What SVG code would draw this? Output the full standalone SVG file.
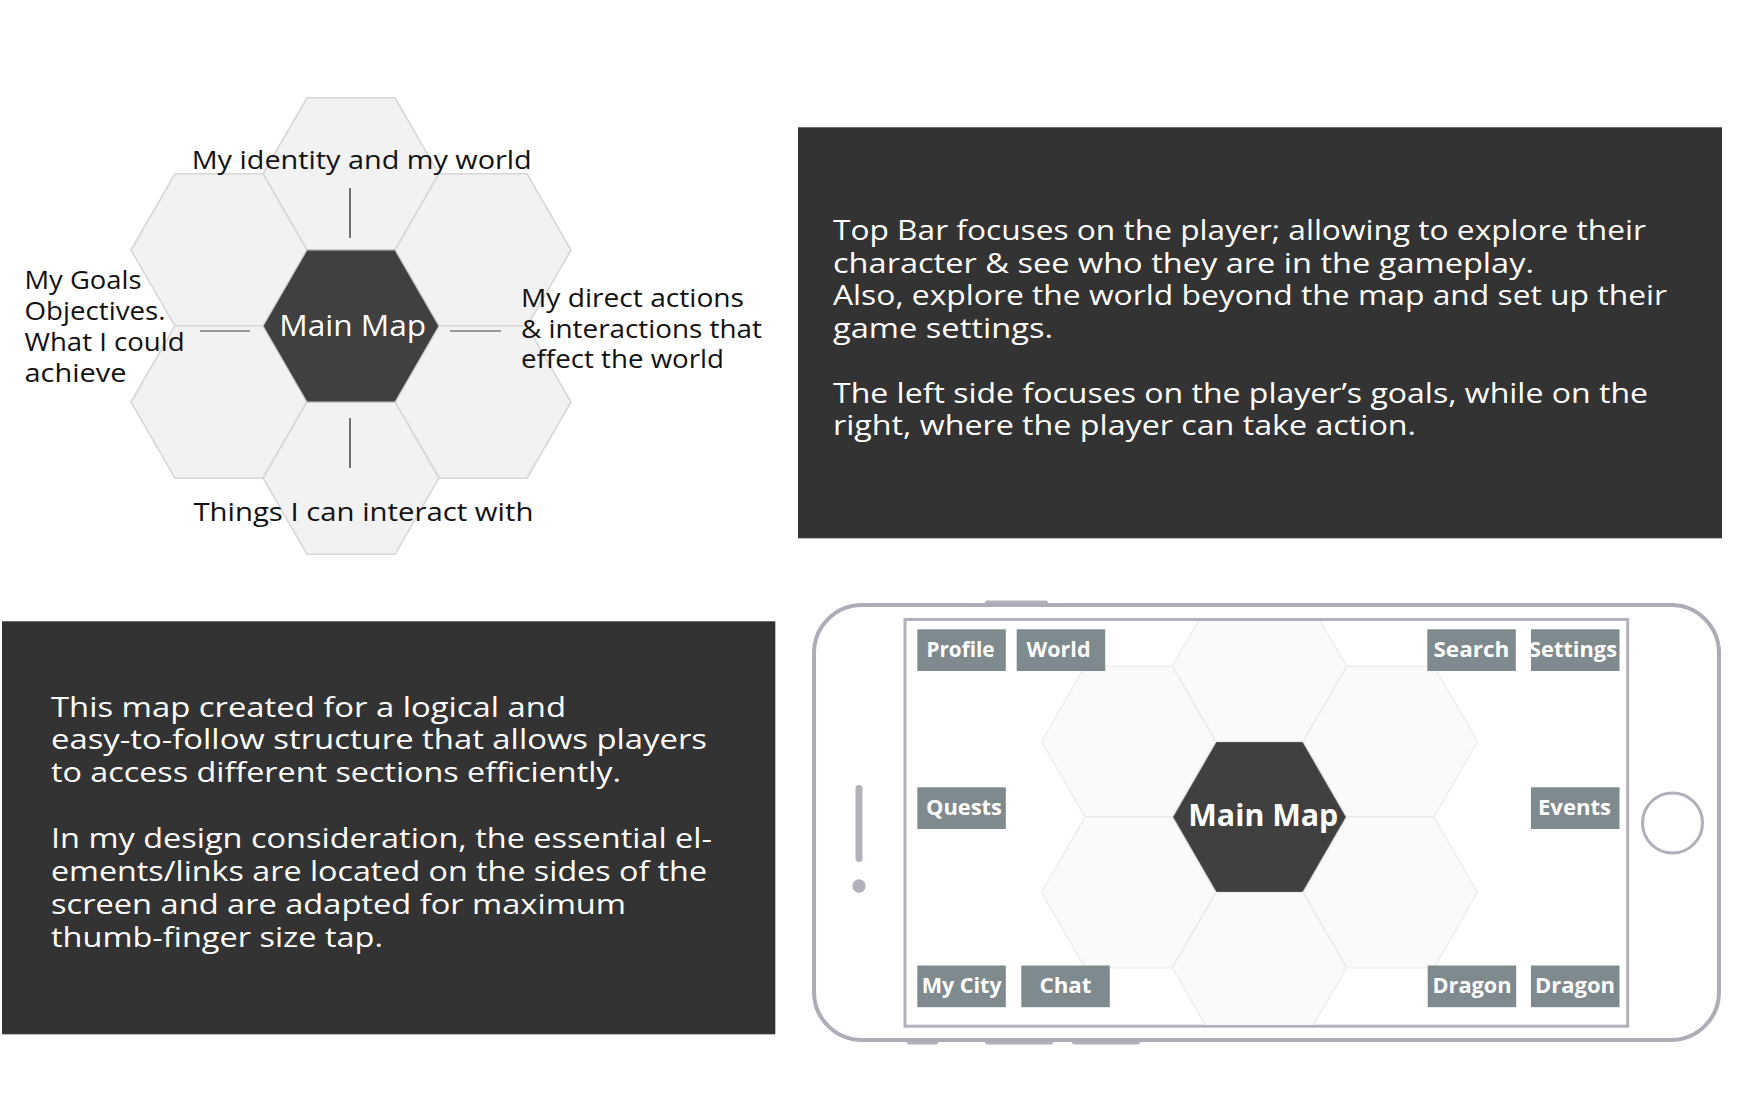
<svg xmlns="http://www.w3.org/2000/svg" xmlns:xlink="http://www.w3.org/1999/xlink" width="1753" height="1120" viewBox="0 0 1753 1120">
  <style>
    text { font-family: "Open Sans", "Noto Sans", "Liberation Sans", sans-serif; }
    .lbl { font-size: 25.5px; fill: #111111; }
    .box { fill: #333333; }
    .boxtxt { font-size: 26.5px; fill: #ffffff; }
    .hexlight { fill: #f2f2f2; stroke: #d6d6d6; stroke-width: 1.5; }
    .hexdark { fill: #404040; stroke: #cccccc; stroke-width: 1.2; }
    .hexfaint { fill: #fafafa; stroke: #ebebeb; stroke-width: 1.2; }
    .hexcore { fill: #404040; stroke: #555555; stroke-width: 1; }
    .maintxt { font-size: 30px; fill: #ffffff; }
    .btn { fill: #7e8a8e; }
    .btntxt { font-size: 20.5px; font-weight: bold; fill: #ffffff; text-anchor: middle; }
    .vline { stroke: #3a3a3a; stroke-width: 1.4; }
    .hline { stroke: #9a9a9a; stroke-width: 2.2; }
    .phonepart { fill: #b2b2bc; }
  </style>
  <defs>
    <polygon id="hex88" points="-88,0 -44,-76.2 44,-76.2 88,0 44,76.2 -44,76.2"/>
    <polygon id="hex87" points="-87,0 -43.5,-75.3 43.5,-75.3 87,0 43.5,75.3 -43.5,75.3"/>
    <polygon id="hex86" points="-86,0 -43,-74.5 43,-74.5 86,0 43,74.5 -43,74.5"/>
    <clipPath id="screenClip">
      <rect x="906.5" y="621" width="719.5" height="404"/>
    </clipPath>
  </defs>

  <rect x="0" y="0" width="1753" height="1120" fill="#ffffff"/>

  <!-- Top-left hexagon map -->
  <g id="hexmap">
    <use xlink:href="#hex88" href="#hex88" class="hexlight" x="351" y="174"/>
    <use xlink:href="#hex88" href="#hex88" class="hexlight" x="219" y="250"/>
    <use xlink:href="#hex88" href="#hex88" class="hexlight" x="483" y="250"/>
    <use xlink:href="#hex88" href="#hex88" class="hexlight" x="219" y="402"/>
    <use xlink:href="#hex88" href="#hex88" class="hexlight" x="483" y="402"/>
    <use xlink:href="#hex88" href="#hex88" class="hexlight" x="351" y="478"/>
    <g id="node-main-map">
      <use xlink:href="#hex88" href="#hex88" class="hexdark" x="351" y="326"/>
      <text class="maintxt" x="352.7" y="336" text-anchor="middle" textLength="147" lengthAdjust="spacingAndGlyphs">Main Map</text>
    </g>
  </g>

  <g id="connectors">
    <line class="vline" x1="350" y1="188" x2="350" y2="238"/>
    <line class="vline" x1="350" y1="418" x2="350" y2="468"/>
    <line class="hline" x1="200" y1="331" x2="250" y2="331"/>
    <line class="hline" x1="450" y1="331" x2="501" y2="331"/>
  </g>

  <g id="label-top">
    <text class="lbl" x="191.7" y="168.5" textLength="340" lengthAdjust="spacingAndGlyphs">My identity and my world</text>
  </g>
  <g id="label-left">
    <text class="lbl" x="24.5" y="289" textLength="117" lengthAdjust="spacingAndGlyphs">My Goals</text>
    <text class="lbl" x="24.5" y="320" textLength="141" lengthAdjust="spacingAndGlyphs">Objectives.</text>
    <text class="lbl" x="24.5" y="351" textLength="160" lengthAdjust="spacingAndGlyphs">What I could</text>
    <text class="lbl" x="24.5" y="382" textLength="102" lengthAdjust="spacingAndGlyphs">achieve</text>
  </g>
  <g id="label-right">
    <text class="lbl" x="521" y="306.7" textLength="223" lengthAdjust="spacingAndGlyphs">My direct actions</text>
    <text class="lbl" x="521" y="337.5" textLength="241" lengthAdjust="spacingAndGlyphs">&amp; interactions that</text>
    <text class="lbl" x="521" y="368.3" textLength="203" lengthAdjust="spacingAndGlyphs">effect the world</text>
  </g>
  <g id="label-bottom">
    <text class="lbl" x="193.4" y="521" textLength="340" lengthAdjust="spacingAndGlyphs">Things I can interact with</text>
  </g>

  <!-- Right description box -->
  <g id="box-topbar">
    <rect class="box" x="798" y="127.3" width="924" height="411"/>
    <text class="boxtxt" x="833" y="240" textLength="813" lengthAdjust="spacingAndGlyphs">Top Bar focuses on the player; allowing to explore their</text>
    <text class="boxtxt" x="833" y="272.5" textLength="701" lengthAdjust="spacingAndGlyphs">character &amp; see who they are in the gameplay.</text>
    <text class="boxtxt" x="833" y="305" textLength="834" lengthAdjust="spacingAndGlyphs">Also, explore the world beyond the map and set up their</text>
    <text class="boxtxt" x="833" y="337.5" textLength="220" lengthAdjust="spacingAndGlyphs">game settings.</text>
    <text class="boxtxt" x="833" y="402.5" textLength="815" lengthAdjust="spacingAndGlyphs">The left side focuses on the player’s goals, while on the</text>
    <text class="boxtxt" x="833" y="435" textLength="583" lengthAdjust="spacingAndGlyphs">right, where the player can take action.</text>
  </g>

  <!-- Left description box -->
  <g id="box-map">
    <rect class="box" x="2" y="621.3" width="773.3" height="413"/>
    <text class="boxtxt" x="51" y="716.7" textLength="515" lengthAdjust="spacingAndGlyphs">This map created for a logical and</text>
    <text class="boxtxt" x="51" y="749.3" textLength="656" lengthAdjust="spacingAndGlyphs">easy-to-follow structure that allows players</text>
    <text class="boxtxt" x="51" y="782" textLength="570" lengthAdjust="spacingAndGlyphs">to access different sections efficiently.</text>
    <text class="boxtxt" x="51" y="848" textLength="661" lengthAdjust="spacingAndGlyphs">In my design consideration, the essential el-</text>
    <text class="boxtxt" x="51" y="881" textLength="656" lengthAdjust="spacingAndGlyphs">ements/links are located on the sides of the</text>
    <text class="boxtxt" x="51" y="914.3" textLength="575" lengthAdjust="spacingAndGlyphs">screen and are adapted for maximum</text>
    <text class="boxtxt" x="51" y="947" textLength="332" lengthAdjust="spacingAndGlyphs">thumb-finger size tap.</text>
  </g>

  <!-- Phone mockup -->
  <g id="phone">
    <rect class="phonepart" x="985" y="600.5" width="63" height="6" rx="2"/>
    <rect class="phonepart" x="907" y="1038.5" width="31" height="6" rx="2"/>
    <rect class="phonepart" x="985" y="1038.5" width="68" height="6" rx="2"/>
    <rect class="phonepart" x="1072" y="1038.5" width="68" height="6" rx="2"/>
    <rect x="814" y="605" width="905" height="435" rx="48" ry="48" fill="#ffffff" stroke="#adadb7" stroke-width="4"/>
    <rect class="phonepart" x="855.5" y="785" width="7" height="77" rx="3.5"/>
    <circle class="phonepart" cx="859" cy="886" r="6.7"/>
    <circle cx="1672.5" cy="823" r="30" fill="none" stroke="#b0b0ba" stroke-width="3"/>
    <rect x="905" y="619.5" width="722.7" height="406.7" fill="#ffffff" stroke="#b2b2bc" stroke-width="3"/>
  </g>

  <g id="phone-hexes" clip-path="url(#screenClip)">
    <use xlink:href="#hex87" href="#hex87" class="hexfaint" x="1259.5" y="666"/>
    <use xlink:href="#hex87" href="#hex87" class="hexfaint" x="1128.5" y="741.5"/>
    <use xlink:href="#hex87" href="#hex87" class="hexfaint" x="1390.5" y="741.5"/>
    <use xlink:href="#hex87" href="#hex87" class="hexfaint" x="1128.5" y="892.5"/>
    <use xlink:href="#hex87" href="#hex87" class="hexfaint" x="1390.5" y="892.5"/>
    <use xlink:href="#hex87" href="#hex87" class="hexfaint" x="1259.5" y="968"/>
  </g>

  <g id="phone-main-map">
    <use xlink:href="#hex86" href="#hex86" class="hexcore" x="1259.5" y="817"/>
    <text class="maintxt" x="1263.3" y="825.7" text-anchor="middle" font-weight="bold" textLength="150" lengthAdjust="spacingAndGlyphs">Main Map</text>
  </g>

  <g id="btn-profile">
    <rect class="btn" x="917.3" y="629.3" width="88.5" height="41.7"/>
    <text class="btntxt" x="960.5" y="657" textLength="68" lengthAdjust="spacingAndGlyphs">Profile</text>
  </g>
  <g id="btn-world">
    <rect class="btn" x="1016.7" y="629.3" width="88.5" height="41.7"/>
    <text class="btntxt" x="1058.5" y="657" textLength="64" lengthAdjust="spacingAndGlyphs">World</text>
  </g>
  <g id="btn-search">
    <rect class="btn" x="1427.3" y="629.3" width="88.5" height="41.7"/>
    <text class="btntxt" x="1471.4" y="657" textLength="76" lengthAdjust="spacingAndGlyphs">Search</text>
  </g>
  <g id="btn-settings">
    <rect class="btn" x="1531" y="629.3" width="88.5" height="41.7"/>
    <text class="btntxt" x="1573" y="657" textLength="88" lengthAdjust="spacingAndGlyphs">Settings</text>
  </g>
  <g id="btn-quests">
    <rect class="btn" x="917.3" y="787.3" width="88.5" height="41.7"/>
    <text class="btntxt" x="964" y="815" textLength="76" lengthAdjust="spacingAndGlyphs">Quests</text>
  </g>
  <g id="btn-events">
    <rect class="btn" x="1531" y="787.3" width="88.5" height="41.7"/>
    <text class="btntxt" x="1574.5" y="815" textLength="73" lengthAdjust="spacingAndGlyphs">Events</text>
  </g>
  <g id="btn-mycity">
    <rect class="btn" x="917.3" y="965.5" width="88.5" height="41.7"/>
    <text class="btntxt" x="961.7" y="993.3" textLength="80" lengthAdjust="spacingAndGlyphs">My City</text>
  </g>
  <g id="btn-chat">
    <rect class="btn" x="1021.3" y="965.5" width="88.5" height="41.7"/>
    <text class="btntxt" x="1065.5" y="993.3" textLength="52" lengthAdjust="spacingAndGlyphs">Chat</text>
  </g>
  <g id="btn-dragon-1">
    <rect class="btn" x="1427.7" y="965.5" width="88.5" height="41.7"/>
    <text class="btntxt" x="1472" y="993.3" textLength="79" lengthAdjust="spacingAndGlyphs">Dragon</text>
  </g>
  <g id="btn-dragon-2">
    <rect class="btn" x="1531" y="965.5" width="88.5" height="41.7"/>
    <text class="btntxt" x="1575" y="993.3" textLength="80" lengthAdjust="spacingAndGlyphs">Dragon</text>
  </g>
</svg>
